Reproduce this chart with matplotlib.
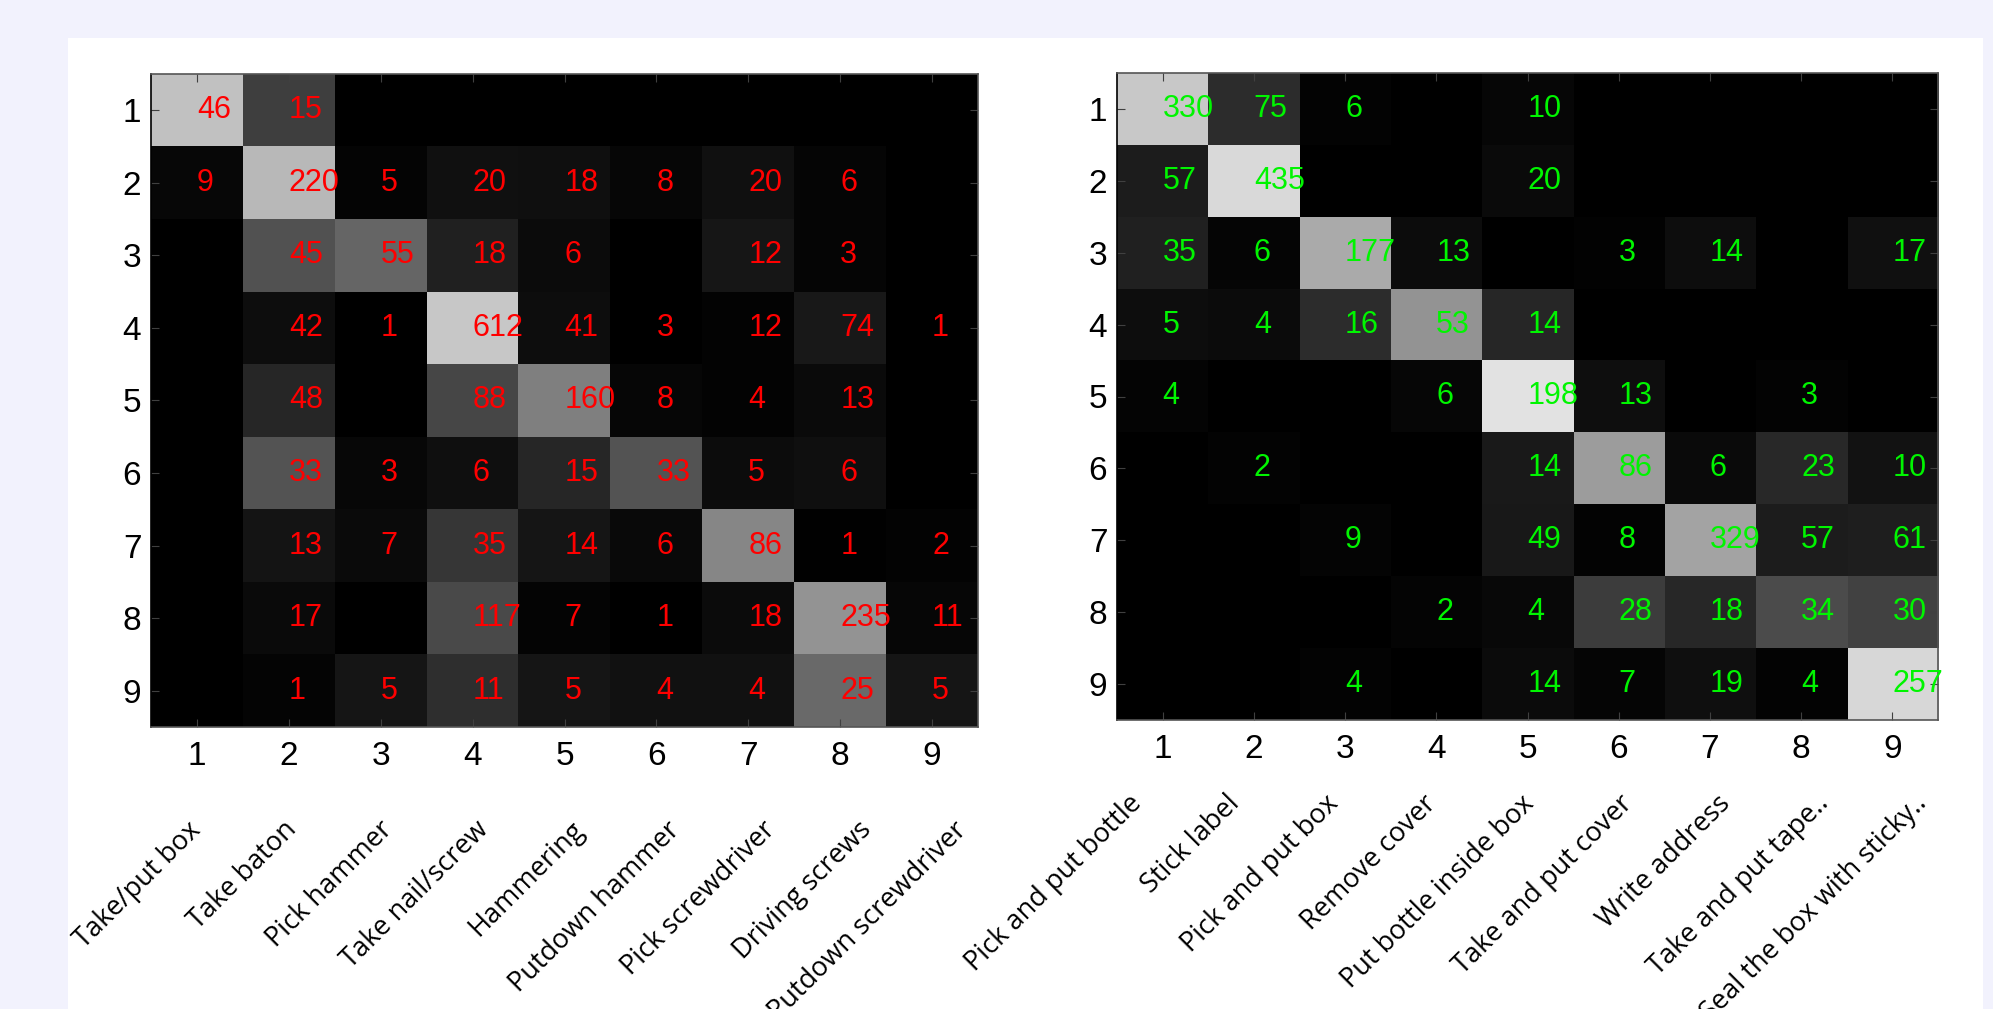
import numpy as np
import matplotlib
matplotlib.use("Agg")
import matplotlib.pyplot as plt
from matplotlib.patches import Rectangle

# ---------------- data ----------------
tick_labels = ["1", "2", "3", "4", "5", "6", "7", "8", "9"]

left_names = ["Take/put box", "Take baton", "Pick hammer", "Take nail/screw",
              "Hammering", "Putdown hammer", "Pick screwdriver",
              "Driving screws", "Putdown screwdriver"]
right_names = ["Pick and put bottle", "Stick label", "Pick and put box",
               "Remove cover", "Put bottle inside box", "Take and put cover",
               "Write address", "Take and put tape..", "Seal the box with sticky.."]

left_counts = np.array([
    [46, 15, 0, 0, 0, 0, 0, 0, 0],
    [9, 220, 5, 20, 18, 8, 20, 6, 0],
    [0, 45, 55, 18, 6, 0, 12, 3, 0],
    [0, 42, 1, 612, 41, 3, 12, 74, 1],
    [0, 48, 0, 88, 160, 8, 4, 13, 0],
    [0, 33, 3, 6, 15, 33, 5, 6, 0],
    [0, 13, 7, 35, 14, 6, 86, 1, 2],
    [0, 17, 0, 117, 7, 1, 18, 235, 11],
    [0, 1, 5, 11, 5, 4, 4, 25, 5],
])
right_counts = np.array([
    [330, 75, 6, 0, 10, 0, 0, 0, 0],
    [57, 435, 0, 0, 20, 0, 0, 0, 0],
    [35, 6, 177, 13, 0, 3, 14, 0, 17],
    [5, 4, 16, 53, 14, 0, 0, 0, 0],
    [4, 0, 0, 6, 198, 13, 0, 3, 0],
    [0, 2, 0, 0, 14, 86, 6, 23, 10],
    [0, 0, 9, 0, 49, 8, 329, 57, 61],
    [0, 0, 0, 2, 4, 28, 18, 34, 30],
    [0, 0, 4, 0, 14, 7, 19, 4, 257],
])

# ---------------- figure ----------------
W, H = 1993, 1009
fig = plt.figure(figsize=(W / 100, H / 100), dpi=100, facecolor="#F2F2FD")
fig.patches.append(Rectangle((68 / W, 0), (1983 - 68) / W, (H - 38) / H,
                             transform=fig.transFigure, facecolor="white",
                             edgecolor="none", zorder=-10))

NUM_FONT = "Liberation Sans"
LBL_FONT = "Open Sans"


def px_axes(x0, y0, x1, y1):
    return fig.add_axes([x0 / W, 1 - y1 / H, (x1 - x0) / W, (y1 - y0) / H])


def draw_cm(ax, counts, color):
    norm = counts / counts.sum(axis=1, keepdims=True)
    n = counts.shape[0]
    ax.imshow(norm, cmap="gray", vmin=0, vmax=1, aspect="auto",
              interpolation="nearest", extent=(0.5, n + 0.5, n + 0.5, 0.5))
    for i in range(n):
        for j in range(n):
            v = counts[i, j]
            if v > 0:
                ax.text(j + 1, i + 1, str(v), color=color, ha="left",
                        va="center", fontsize=22, family=NUM_FONT,
                        clip_on=False)
    ax.set_xticks(range(1, n + 1))
    ax.set_yticks(range(1, n + 1))
    ax.set_xticklabels(tick_labels, family=NUM_FONT, fontsize=24)
    ax.set_yticklabels(tick_labels, family=NUM_FONT, fontsize=24)
    ax.tick_params(axis="x", direction="in", length=6, width=0.8,
                   color="#404040", top=True, bottom=True, pad=10)
    ax.tick_params(axis="y", direction="in", length=6, width=0.8,
                   color="#404040", left=True, right=True, pad=7)
    for s in ax.spines.values():
        s.set_color("#555555")
        s.set_linewidth(1.2)
    ax.spines["left"].set_color("black")


axL = px_axes(151, 74, 978, 727)
draw_cm(axL, left_counts, "#FF0000")
axR = px_axes(1117, 73, 1938, 720)
draw_cm(axR, right_counts, "#00F500")

# rotated class-name labels
for i, name in enumerate(left_names):
    x = 187 + 95.75 * i
    fig.text(x / W, 1 - 816 / H, name, rotation=45, rotation_mode="anchor",
             ha="right", va="top", fontsize=19.5, family=LBL_FONT)
for i, name in enumerate(right_names):
    x = 1128 + 98.1 * i
    fig.text(x / W, 1 - 790 / H, name, rotation=45, rotation_mode="anchor",
             ha="right", va="top", fontsize=19.5, family=LBL_FONT)

fig.savefig("out.png", dpi=100, facecolor=fig.get_facecolor())
